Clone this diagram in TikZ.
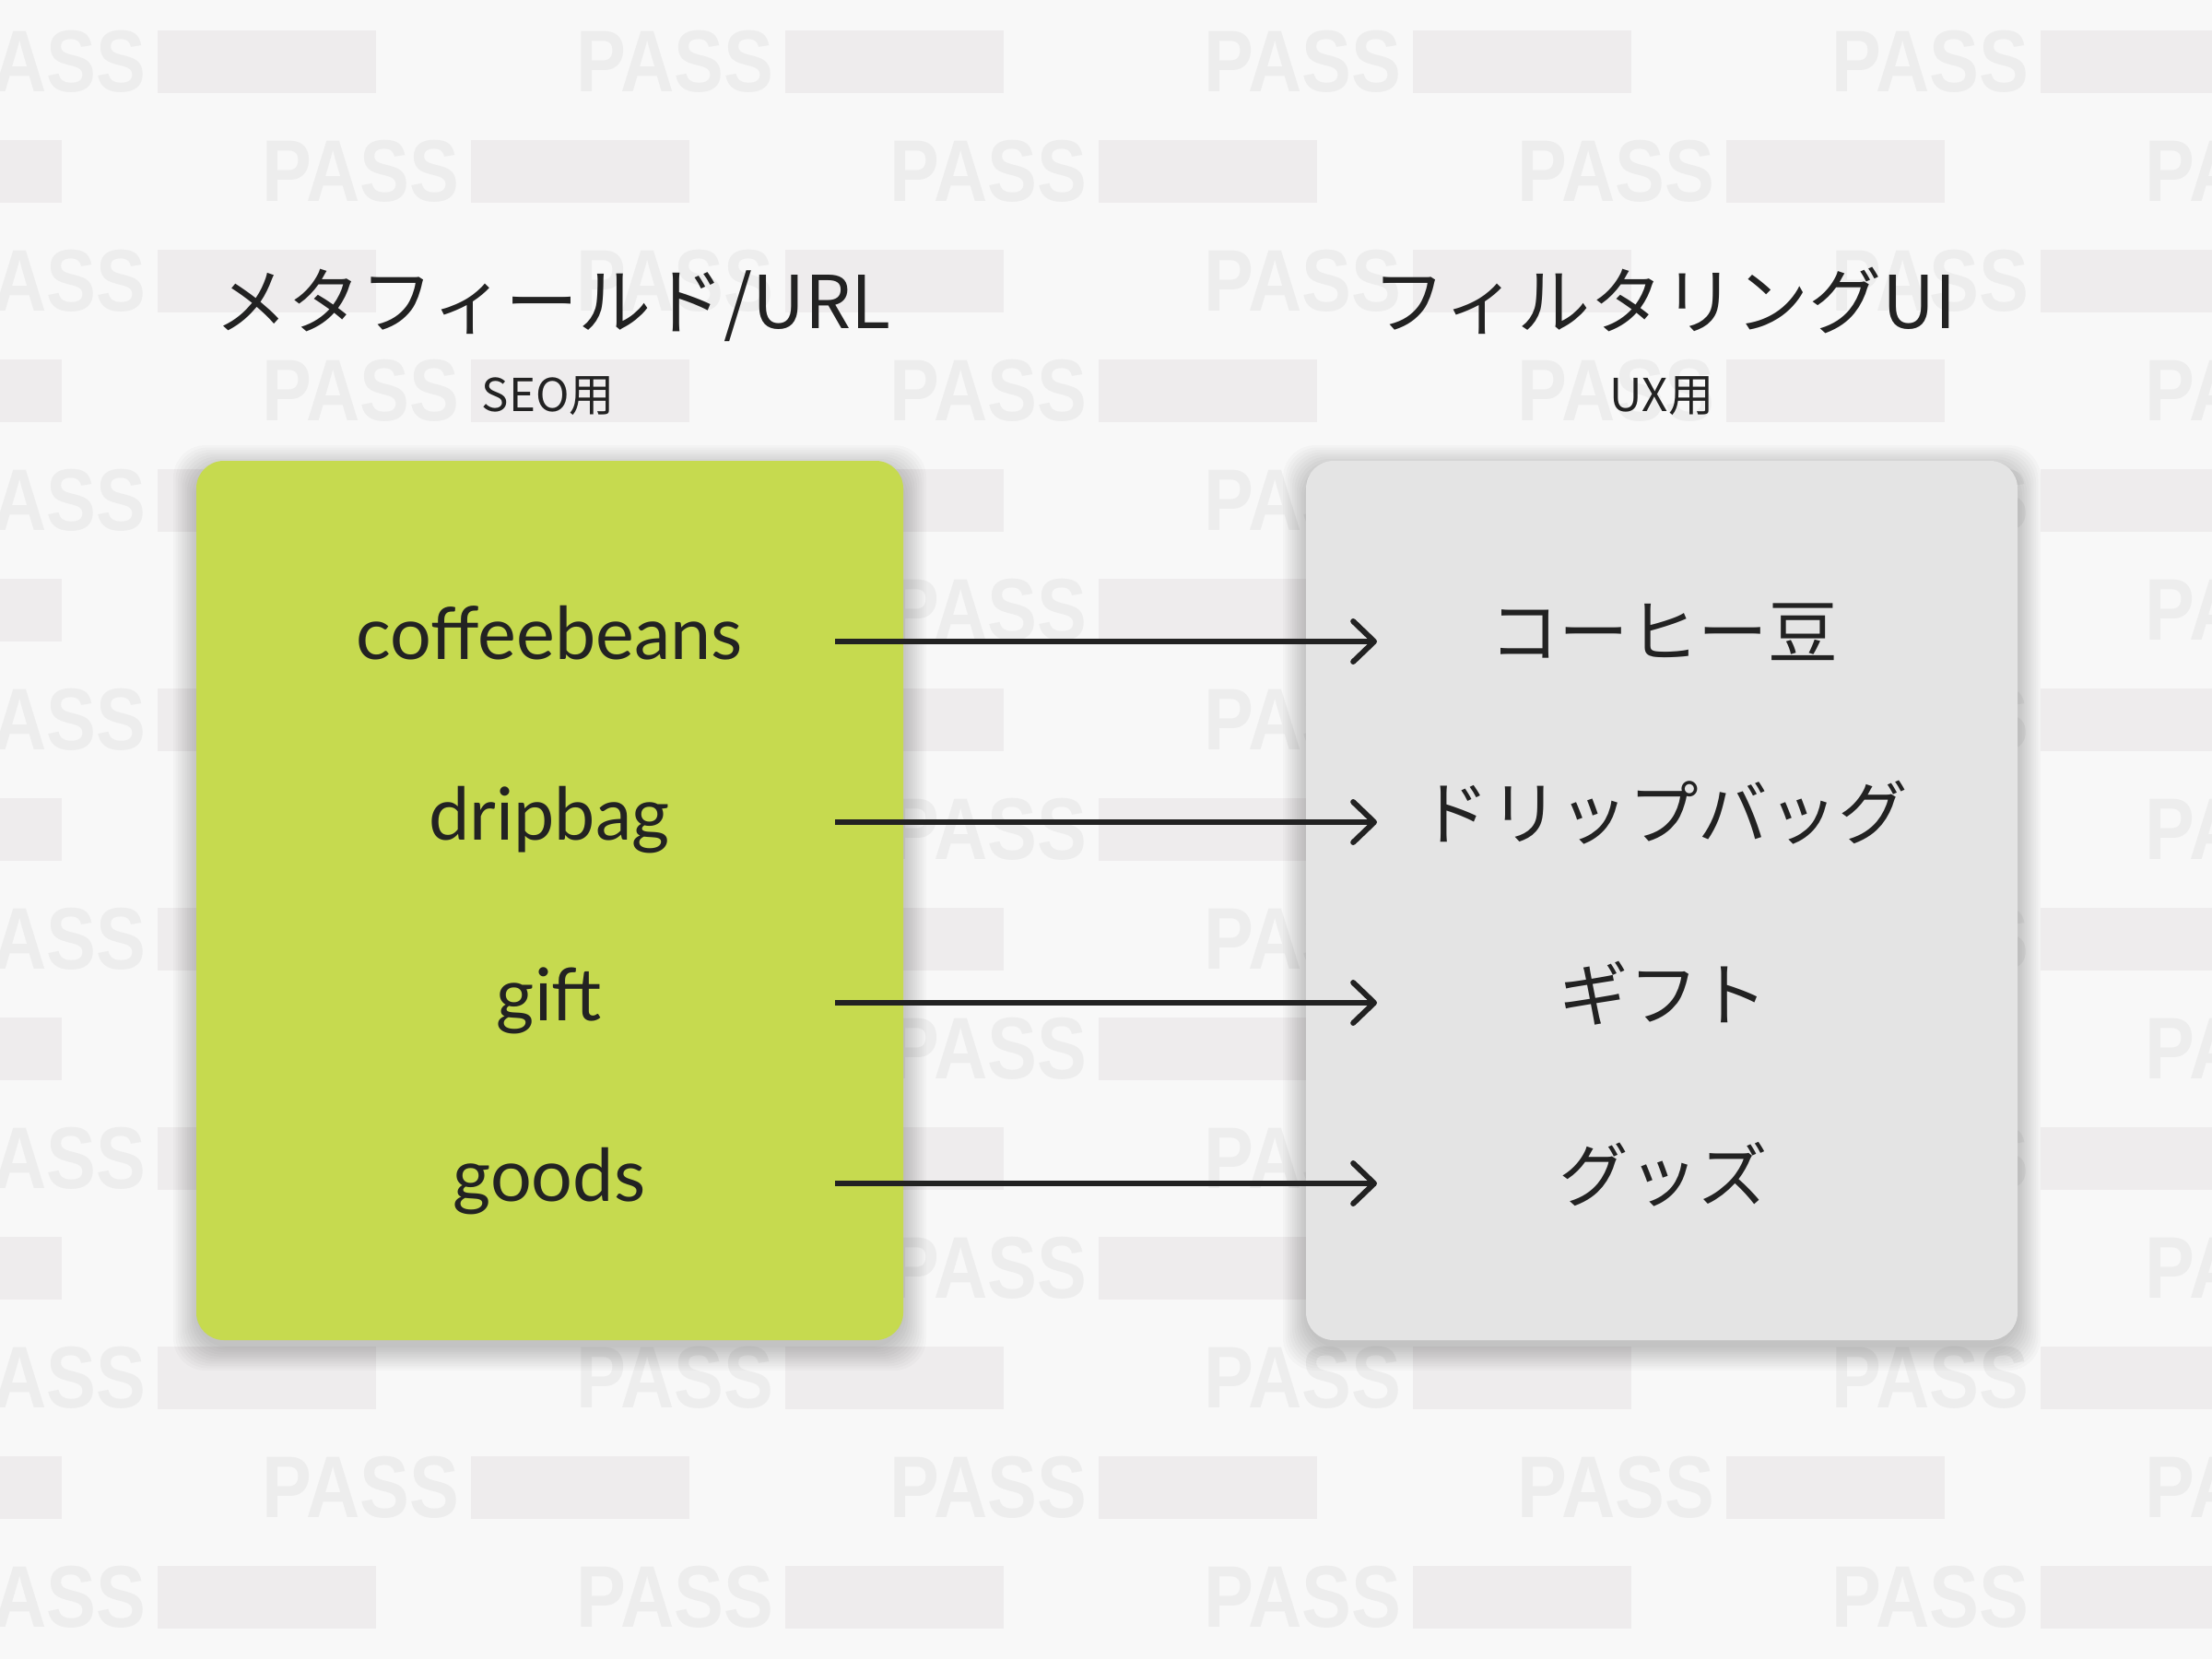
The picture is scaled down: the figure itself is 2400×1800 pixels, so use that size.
\documentclass[tikz,border=0pt]{standalone}
\usepackage{fontspec}
\setmainfont{Lato}
\newfontfamily\jpfont{Noto Sans CJK JP}
\newfontfamily\markfont{Liberation Sans}
\usetikzlibrary{arrows.meta}

\definecolor{bgcol}{HTML}{F8F8F8}
\definecolor{markcol}{HTML}{EDEDED}
\definecolor{barcol}{HTML}{EEECED}
\definecolor{limecol}{HTML}{C6DA4F}
\definecolor{greycol}{HTML}{E4E4E4}
\definecolor{inkcol}{HTML}{222222}

\tikzset{
  item/.style={inner sep=0pt, text=inkcol, font=\fontsize{22.5}{26}\selectfont},
  jpitem/.style={inner sep=0pt, text=inkcol, font=\jpfont\fontsize{21.5}{26}\selectfont},
  head/.style={inner sep=0pt, text=inkcol, anchor=base, font=\jpfont\fontsize{22.5}{26}\selectfont},
  subhead/.style={inner sep=0pt, text=inkcol, anchor=base, font=\jpfont\fontsize{14}{16}\selectfont},
  maparrow/.style={draw=inkcol, line width=1.7pt, -{Straight Barb[length=6.5pt,width=12.5pt,line cap=round,line join=round]}},
}

\begin{document}
\begin{tikzpicture}[x=0.01cm, y=-0.01cm]
    \fill[bgcol] (0,0) rectangle (2400,1800); % 背景
    \useasboundingbox (0,0) rectangle (2400,1800);
    % 透かし PASS
    \foreach \k in {0,...,14}{
      \pgfmathsetmacro\yc{67+119*\k}
      \pgfmathsetmacro\off{mod(\k,2)*340}
      \foreach \j in {-1,...,3}{
        \pgfmathsetmacro\xp{-56+\off+681*\j}
        \node[anchor=west, inner sep=0pt, text=markcol, font=\markfont\bfseries\fontsize{27}{27}\selectfont] at (\xp,\yc) {\scalebox{0.85}[1]{PASS}};
        \fill[barcol] (\xp+227,\yc-34) rectangle (\xp+464,\yc+34);
      }
    }
    % 影
    \foreach \xa/\xb in {213/980, 1417/2189}{
      \foreach \i in {0,...,10}{
        \fill[black, opacity=0.02, rounded corners=10pt] (\xa-2.5*\i,508-2.5*\i) rectangle (\xb+2.5*\i,1462+2.5*\i);
      }
    }
    \fill[limecol, rounded corners=8.5pt] (213,500) rectangle (980,1454); % SEO側
    \fill[greycol, rounded corners=8.5pt] (1417,500) rectangle (2189,1454); % UI側
    % 見出し
    \node (headL) at (600,356) [head] {メタフィールド/URL};
    \node (headR) at (1806,356) [head] {フィルタリングUI};
    \node (subL) at (595,446) [subhead] {SEO用};
    \node (subR) at (1803,446) [subhead] {UX用};
    % 項目
    \node (coffee) at (596,715) [item, anchor=base] {coffeebeans};
    \node (drip) at (596,911) [item, anchor=base] {dripbag};
    \node (gift) at (596,1107) [item, anchor=base] {gift};
    \node (goods) at (596,1303) [item, anchor=base] {goods};
    \node (mame) at (1805,686) [jpitem] {コーヒー豆};
    \node (bag) at (1805,882) [jpitem] {ドリップバッグ};
    \node (gifuto) at (1805,1078) [jpitem] {ギフト};
    \node (guzzu) at (1805,1274) [jpitem] {グッズ};
    % 矢印
    \foreach \n/\y in {1/696, 2/892, 3/1088, 4/1284}{
      \coordinate (s\n) at (906,\y);
      \coordinate (t\n) at (1494,\y);
      \draw[maparrow] (s\n) -- (t\n);
    }
\end{tikzpicture}
\end{document}
